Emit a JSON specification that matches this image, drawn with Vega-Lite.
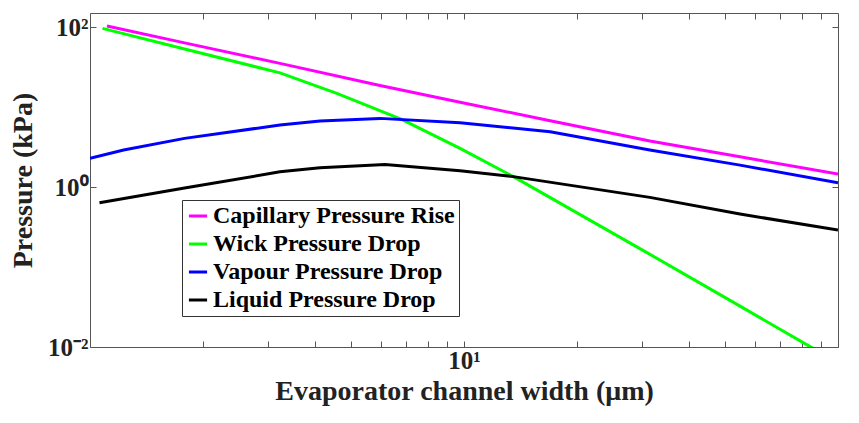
{
  "$schema": "https://vega.github.io/schema/vega-lite/v6.json",
  "width": 748,
  "height": 334,
  "autosize": {"type": "none"},
  "padding": {"left": 90, "top": 13, "right": 21, "bottom": 76},
  "background": "white",
  "config": {
    "view": {"stroke": "#555555", "strokeWidth": 1},
    "font": "Liberation Serif",
    "axis": {
      "grid": false,
      "domain": false,
      "tickColor": "#555555",
      "tickSize": -6,
      "labelFont": "Liberation Serif",
      "labelFontWeight": "bold",
      "labelFontSize": 25,
      "labelColor": "#222222",
      "titleFont": "Liberation Serif",
      "titleFontWeight": "bold",
      "titleFontSize": 28,
      "titleColor": "#222222"
    },
    "legend": {
      "symbolType": "stroke",
      "symbolStrokeWidth": 3,
      "symbolSize": 330,
      "labelFont": "Liberation Serif",
      "labelFontWeight": "bold",
      "labelFontSize": 24,
      "labelColor": "#000000",
      "labelOffset": 3,
      "labelLimit": 0,
      "strokeColor": "#333333",
      "fillColor": "white",
      "padding": 4,
      "rowPadding": 4
    }
  },
  "data": {
    "values": [
      {"w": 1.11, "p": 103, "s": "Capillary Pressure Rise"},
      {"w": 1.79, "p": 63.5, "s": "Capillary Pressure Rise"},
      {"w": 3.22, "p": 35.2, "s": "Capillary Pressure Rise"},
      {"w": 5.96, "p": 18.6, "s": "Capillary Pressure Rise"},
      {"w": 9.76, "p": 11.5, "s": "Capillary Pressure Rise"},
      {"w": 17.0, "p": 6.74, "s": "Capillary Pressure Rise"},
      {"w": 31.4, "p": 3.76, "s": "Capillary Pressure Rise"},
      {"w": 54.7, "p": 2.39, "s": "Capillary Pressure Rise"},
      {"w": 100, "p": 1.45, "s": "Capillary Pressure Rise"},

      {"w": 1.08, "p": 96.3, "s": "Wick Pressure Drop"},
      {"w": 1.79, "p": 53.1, "s": "Wick Pressure Drop"},
      {"w": 3.22, "p": 26.8, "s": "Wick Pressure Drop"},
      {"w": 4.57, "p": 14.8, "s": "Wick Pressure Drop"},
      {"w": 6.81, "p": 7.02, "s": "Wick Pressure Drop"},
      {"w": 9.76, "p": 3.05, "s": "Wick Pressure Drop"},
      {"w": 13.55, "p": 1.35, "s": "Wick Pressure Drop"},
      {"w": 30.5, "p": 0.156, "s": "Wick Pressure Drop"},
      {"w": 54.7, "p": 0.0324, "s": "Wick Pressure Drop"},
      {"w": 84.2, "p": 0.0101, "s": "Wick Pressure Drop"},
      {"w": 100, "p": 0.0064, "s": "Wick Pressure Drop"},

      {"w": 1.0, "p": 2.28, "s": "Vapour Pressure Drop"},
      {"w": 1.23, "p": 2.9, "s": "Vapour Pressure Drop"},
      {"w": 1.79, "p": 4.06, "s": "Vapour Pressure Drop"},
      {"w": 3.22, "p": 5.96, "s": "Vapour Pressure Drop"},
      {"w": 4.12, "p": 6.68, "s": "Vapour Pressure Drop"},
      {"w": 5.96, "p": 7.22, "s": "Vapour Pressure Drop"},
      {"w": 9.76, "p": 6.37, "s": "Vapour Pressure Drop"},
      {"w": 17.0, "p": 4.91, "s": "Vapour Pressure Drop"},
      {"w": 31.4, "p": 2.9, "s": "Vapour Pressure Drop"},
      {"w": 54.7, "p": 1.88, "s": "Vapour Pressure Drop"},
      {"w": 100, "p": 1.13, "s": "Vapour Pressure Drop"},

      {"w": 1.06, "p": 0.637, "s": "Liquid Pressure Drop"},
      {"w": 1.79, "p": 0.97, "s": "Liquid Pressure Drop"},
      {"w": 3.22, "p": 1.55, "s": "Liquid Pressure Drop"},
      {"w": 4.12, "p": 1.74, "s": "Liquid Pressure Drop"},
      {"w": 6.15, "p": 1.92, "s": "Liquid Pressure Drop"},
      {"w": 9.76, "p": 1.6, "s": "Liquid Pressure Drop"},
      {"w": 13.55, "p": 1.35, "s": "Liquid Pressure Drop"},
      {"w": 31.4, "p": 0.743, "s": "Liquid Pressure Drop"},
      {"w": 54.7, "p": 0.46, "s": "Liquid Pressure Drop"},
      {"w": 100, "p": 0.29, "s": "Liquid Pressure Drop"}
    ]
  },
  "layer": [
    {
      "mark": {"type": "line", "strokeWidth": 3, "clip": true},
      "encoding": {
        "x": {
          "field": "w", "type": "quantitative",
          "scale": {"type": "log", "domain": [1, 100], "nice": false},
          "axis": {
            "orient": "bottom",
            "title": "Evaporator channel width (μm)",
            "values": [2,3,4,5,6,7,8,9,10,20,30,40,50,60,70,80,90],
            "labelExpr": "datum.value == 10 ? '10¹' : datum.value == 100 ? '10²' : ''",
            "labelPadding": 7,
            "titlePadding": 4
          }
        },
        "y": {
          "field": "p", "type": "quantitative",
          "scale": {"type": "log", "domain": [0.01, 150], "nice": false},
          "axis": {
            "orient": "left",
            "title": "Pressure (kPa)",
            "values": [0.01, 1, 100],
            "labelExpr": "datum.value == 100 ? '10²' : datum.value == 1 ? '10⁰' : '10⁻²'",
            "labelPadding": 8,
            "titlePadding": 10
          }
        },
        "color": {
          "field": "s", "type": "nominal",
          "scale": {
            "domain": ["Capillary Pressure Rise", "Wick Pressure Drop", "Vapour Pressure Drop", "Liquid Pressure Drop"],
            "range": ["#ff00ff", "#00ff00", "#0000ff", "#000000"]
          },
          "legend": {"title": null, "orient": "none", "legendX": 92, "legendY": 187}
        },
        "detail": {"field": "s"}
      }
    },
    {
      "mark": {"type": "line", "opacity": 0},
      "encoding": {
        "x": {
          "field": "w", "type": "quantitative",
          "axis": {
            "orient": "top",
            "title": null,
            "labels": false,
            "values": [2,3,4,5,6,7,8,9,10,20,30,40,50,60,70,80,90]
          }
        },
        "y": {
          "field": "p", "type": "quantitative",
          "axis": {
            "orient": "right",
            "title": null,
            "labels": false,
            "values": [0.01, 1, 100]
          }
        },
        "detail": {"field": "s"}
      }
    }
  ],
  "resolve": {"axis": {"x": "independent", "y": "independent"}}
}
